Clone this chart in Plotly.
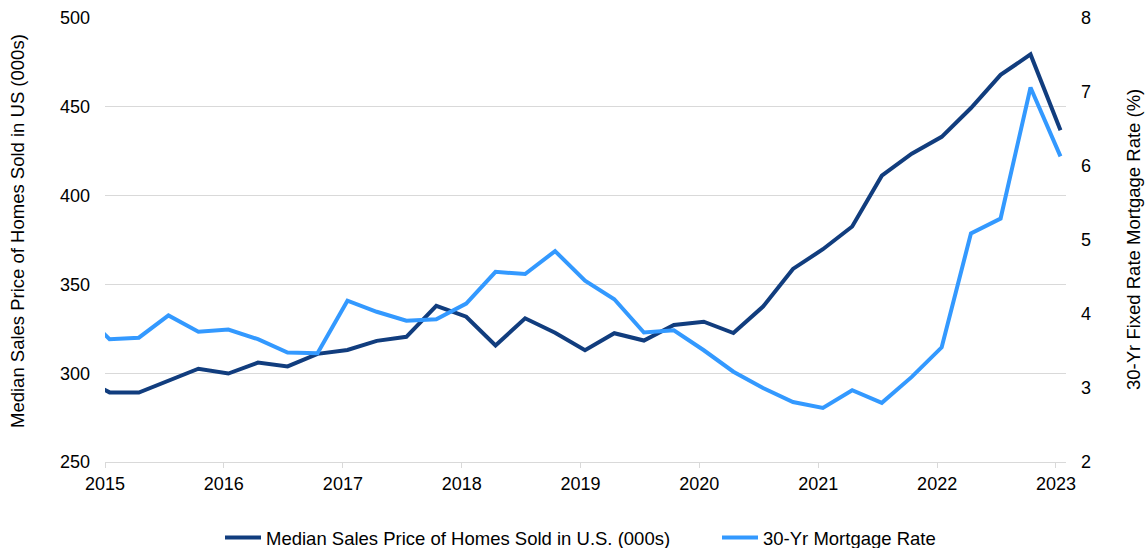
import pandas as pd
import plotly.graph_objects as go

# Quarterly data (2014Q4 .. 2023Q1); 2014Q4 sits just left of the visible range
quarters = pd.date_range("2014-10-01", "2023-01-01", freq="QS") + pd.Timedelta(days=14)

median_price = [298.1,
                289.2, 289.1, 295.8, 302.5,
                299.8, 306.0, 303.8, 310.9,
                313.1, 318.2, 320.5, 337.9,
                331.8, 315.6, 330.9, 322.8,
                313.0, 322.5, 318.4, 327.1,
                329.0, 322.6, 337.5, 358.7,
                369.8, 382.6, 411.2, 423.6,
                433.1, 449.3, 468.0, 479.5,
                436.8]

mortgage_rate = [4.05,
                 3.66, 3.68, 3.98, 3.76,
                 3.79, 3.66, 3.48, 3.47,
                 4.18, 4.03, 3.91, 3.93,
                 4.14, 4.57, 4.54, 4.85,
                 4.45, 4.20, 3.75, 3.78,
                 3.51, 3.22, 3.00, 2.81,
                 2.73, 2.97, 2.80, 3.15,
                 3.55, 5.09, 5.29, 7.06,
                 6.13]

year_ticks = [str(y) for y in range(2015, 2024)]

price_name = "Median Sales Price of Homes Sold in U.S. (000s)"
rate_name = "30-Yr Mortgage Rate"
left_title = "Median Sales Price of Homes Sold in US (000s)"
right_title = "30-Yr Fixed Rate Mortgage Rate (%)"

DARK = "#113d7e"
LIGHT = "#3399ff"
GRID = "#d9d9d9"
FONT = "Liberation Sans, Arial, sans-serif"
TICK = 18
TITLE = 18.5
W, H = 1145, 548

fig = go.Figure()
fig.add_trace(go.Scatter(x=quarters, y=median_price, mode="lines", name=price_name,
                         line=dict(color=DARK, width=4), yaxis="y", legend="legend"))
fig.add_trace(go.Scatter(x=quarters, y=mortgage_rate, mode="lines", name=rate_name,
                         line=dict(color=LIGHT, width=4), yaxis="y2", legend="legend2"))

legend_common = dict(orientation="h", xanchor="left", xref="container",
                     y=10 / H, yanchor="middle", yref="container", itemwidth=36,
                     font=dict(size=TITLE), bgcolor="rgba(0,0,0,0)", borderwidth=0)

fig.update_layout(
    width=W, height=H,
    margin=dict(l=105, r=79, t=18, b=86, autoexpand=False),
    paper_bgcolor="white", plot_bgcolor="white",
    font=dict(family=FONT, size=TICK, color="#000000"),
    showlegend=True,
    legend=dict(x=220 / W, **legend_common),
    legend2=dict(x=717 / W, **legend_common),
    xaxis=dict(type="date", range=["2015-01-01", "2023-02-01"],
               tickvals=[f"{y}-01-01" for y in year_ticks],
               ticktext=year_ticks,
               showgrid=False, showline=True, linecolor=GRID, linewidth=1,
               ticks="outside", ticklen=5, tickcolor=GRID, tickfont=dict(size=TICK),
               zeroline=False, automargin=False),
    yaxis=dict(range=[250, 500], dtick=50, showgrid=True, gridcolor=GRID, gridwidth=1,
               zeroline=False, showline=False, ticks="", tickfont=dict(size=TICK),
               ticklabelstandoff=14, automargin=False),
    yaxis2=dict(range=[2, 8], dtick=1, overlaying="y", side="right", showgrid=False,
                zeroline=False, showline=False, ticks="", tickfont=dict(size=TICK),
                ticklabelstandoff=14, automargin=False),
    annotations=[
        dict(text=left_title, xref="paper", yref="paper", x=0, y=0.5,
             xanchor="center", yanchor="middle", xshift=-88, yshift=9, textangle=-90,
             showarrow=False, font=dict(size=TITLE)),
        dict(text=right_title, xref="paper", yref="paper", x=1, y=0.5,
             xanchor="center", yanchor="middle", xshift=67, textangle=-90,
             showarrow=False, font=dict(size=TITLE)),
    ],
)

fig.write_html("out.html", config={"displayModeBar": False},
               post_script="document.body.style.margin='0';document.body.style.overflow='hidden';")
